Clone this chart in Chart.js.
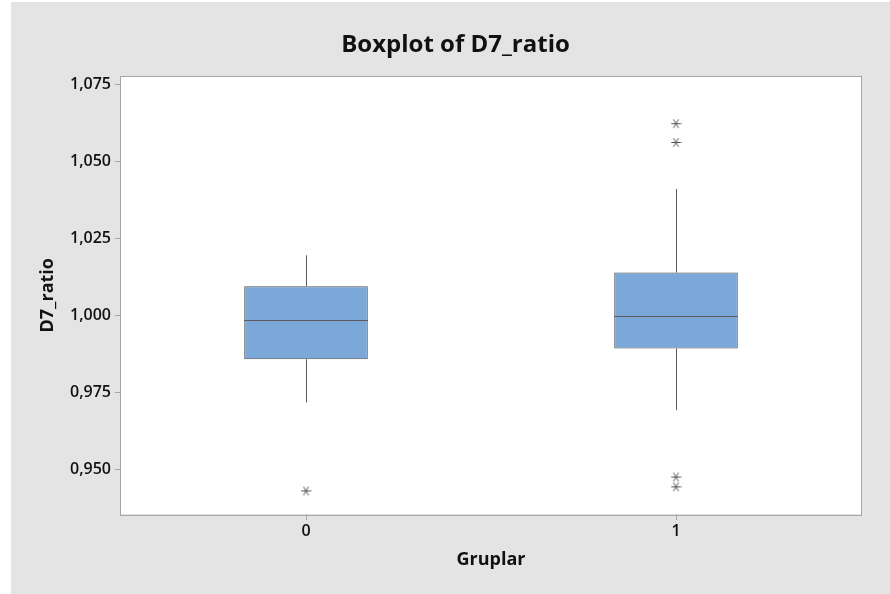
<!DOCTYPE html>
<html>
<head>
<meta charset="utf-8">
<script src="https://cdn.jsdelivr.net/npm/chart.js@4.4.0/dist/chart.umd.min.js"></script>
<style>
  html, body { margin: 0; padding: 0; background: #ffffff; }
  #wrap { position: absolute; left: 11px; top: 2px; width: 879px; height: 592px; background: #e4e4e4; }
</style>
</head>
<body>
<div id="wrap"><canvas id="myChart" width="879" height="592"></canvas></div>
<script>
// グループとボックスの値
const groups = ["0", "1"];
const q1 = [0.9859, 0.9894];
const median = [0.9985, 0.9999];
const q3 = [1.0096, 1.0140];
const whiskerLow = [0.9719, 0.9694];
const whiskerHigh = [1.0196, 1.0411];
const outliers0 = [0.9432];
const outliers1 = [1.0623, 1.0562, 0.9477, 0.9445];
const yTicks = [0.95, 0.975, 1.0, 1.025, 1.05, 1.075];

const FONT = "'Open Sans', 'Noto Sans', sans-serif";

// アスタリスクのマーカー
const star = document.createElement("canvas");
star.width = 11;
star.height = 11;
(function () {
  const c = star.getContext("2d");
  c.strokeStyle = "#555555";
  c.lineWidth = 1;
  c.beginPath();
  [0, 60, 120].forEach((deg) => {
    const a = (deg * Math.PI) / 180;
    const dx = Math.cos(a) * 5, dy = Math.sin(a) * 5;
    c.moveTo(5.5 - dx, 5.5 - dy);
    c.lineTo(5.5 + dx, 5.5 + dy);
  });
  c.stroke();
})();

const outlierPoints = [];
outliers0.forEach((v) => outlierPoints.push({ x: groups[0], y: v }));
outliers1.forEach((v) => outlierPoints.push({ x: groups[1], y: v }));

// 枠線と背景
const frame = {
  id: "frame",
  beforeDraw(chart) {
    const { ctx, chartArea: a } = chart;
    ctx.save();
    ctx.fillStyle = "#ffffff";
    ctx.fillRect(a.left, a.top, a.right - a.left, a.bottom - a.top);
    ctx.restore();
  },
  afterDraw(chart) {
    const { ctx, chartArea: a } = chart;
    ctx.save();
    ctx.strokeStyle = "#a6a6a6";
    ctx.lineWidth = 1;
    ctx.strokeRect(Math.round(a.left) - 0.5, Math.round(a.top) - 0.5, Math.round(a.right - a.left) + 1, Math.round(a.bottom - a.top) + 1);
    ctx.restore();
  },
};

// ひげと中央値の線
const whiskers = {
  id: "whiskers",
  afterDatasetsDraw(chart) {
    const { ctx } = chart;
    const y = chart.scales.y;
    const meta = chart.getDatasetMeta(0);
    ctx.save();
    ctx.strokeStyle = "#5a5a5a";
    ctx.lineWidth = 1;
    meta.data.forEach((bar, i) => {
      const p = bar.getProps(["x", "width"], true);
      const cx = Math.round(p.x) + 0.5;
      const half = p.width / 2;
      const ym = Math.round(y.getPixelForValue(median[i])) + 0.5;
      ctx.beginPath();
      ctx.moveTo(p.x - half, ym);
      ctx.lineTo(p.x + half, ym);
      ctx.moveTo(cx, y.getPixelForValue(q3[i]));
      ctx.lineTo(cx, y.getPixelForValue(whiskerHigh[i]));
      ctx.moveTo(cx, y.getPixelForValue(q1[i]));
      ctx.lineTo(cx, y.getPixelForValue(whiskerLow[i]));
      ctx.stroke();
    });
    ctx.restore();
  },
};

const ctx = document.getElementById("myChart").getContext("2d");
const chart = new Chart(ctx, {
  type: "bar",
  data: {
    labels: groups,
    datasets: [
      {
        type: "bar",
        data: groups.map((g, i) => [q1[i], q3[i]]),
        backgroundColor: "#7ba7d9",
        borderColor: "#505050",
        borderWidth: 1,
        borderSkipped: false,
        categoryPercentage: 1,
        barPercentage: 0.334,
      },
      {
        type: "scatter",
        data: outlierPoints,
        pointStyle: star,
        pointRadius: 5,
      },
    ],
  },
  options: {
    responsive: false,
    animation: false,
    layout: { padding: { left: 10, top: 0, right: 0, bottom: 0 } },
    plugins: {
      legend: { display: false },
      tooltip: { enabled: false },
      title: {
        display: true,
        text: "Boxplot of D7_ratio",
        color: "#111111",
        font: { family: FONT, size: 24, weight: "bold", lineHeight: 1.2 },
        padding: { top: 28.5, bottom: 17.2 },
      },
    },
    scales: {
      x: {
        type: "category",
        offset: true,
        grid: { display: true, offset: false, drawOnChartArea: false, tickLength: 6, color: "#a6a6a6" },
        border: { display: false },
        ticks: { color: "#111111", padding: 2, font: { family: FONT, size: 16, weight: "600" } },
        title: {
          display: true,
          text: "Gruplar",
          color: "#111111",
          font: { family: FONT, size: 18, weight: "bold", lineHeight: 1.2 },
          padding: { top: 23, bottom: 23 },
        },
        afterFit: (s) => { s.height = 80; },
      },
      y: {
        min: 0.9357,
        max: 1.0776,
        grid: { display: true, drawOnChartArea: false, tickLength: 6, color: "#a6a6a6" },
        border: { display: false },
        afterBuildTicks: (s) => { s.ticks = yTicks.map((v) => ({ value: v })); },
        ticks: {
          color: "#111111",
          padding: 4,
          font: { family: FONT, size: 16, weight: "600" },
          callback: (v) => v.toFixed(3).replace(".", ","),
        },
        title: {
          display: true,
          text: "D7_ratio",
          color: "#111111",
          font: { family: FONT, size: 18, weight: "bold", lineHeight: 1.2 },
          padding: { top: 16, bottom: 16 },
        },
        afterFit: (s) => { s.width = 100; },
      },
      y2: {
        position: "right",
        display: true,
        grid: { display: false },
        border: { display: false },
        ticks: { display: false },
        afterFit: (s) => { s.width = 29; },
      },
    },
  },
  plugins: [frame, whiskers],
});
</script>
</body>
</html>
